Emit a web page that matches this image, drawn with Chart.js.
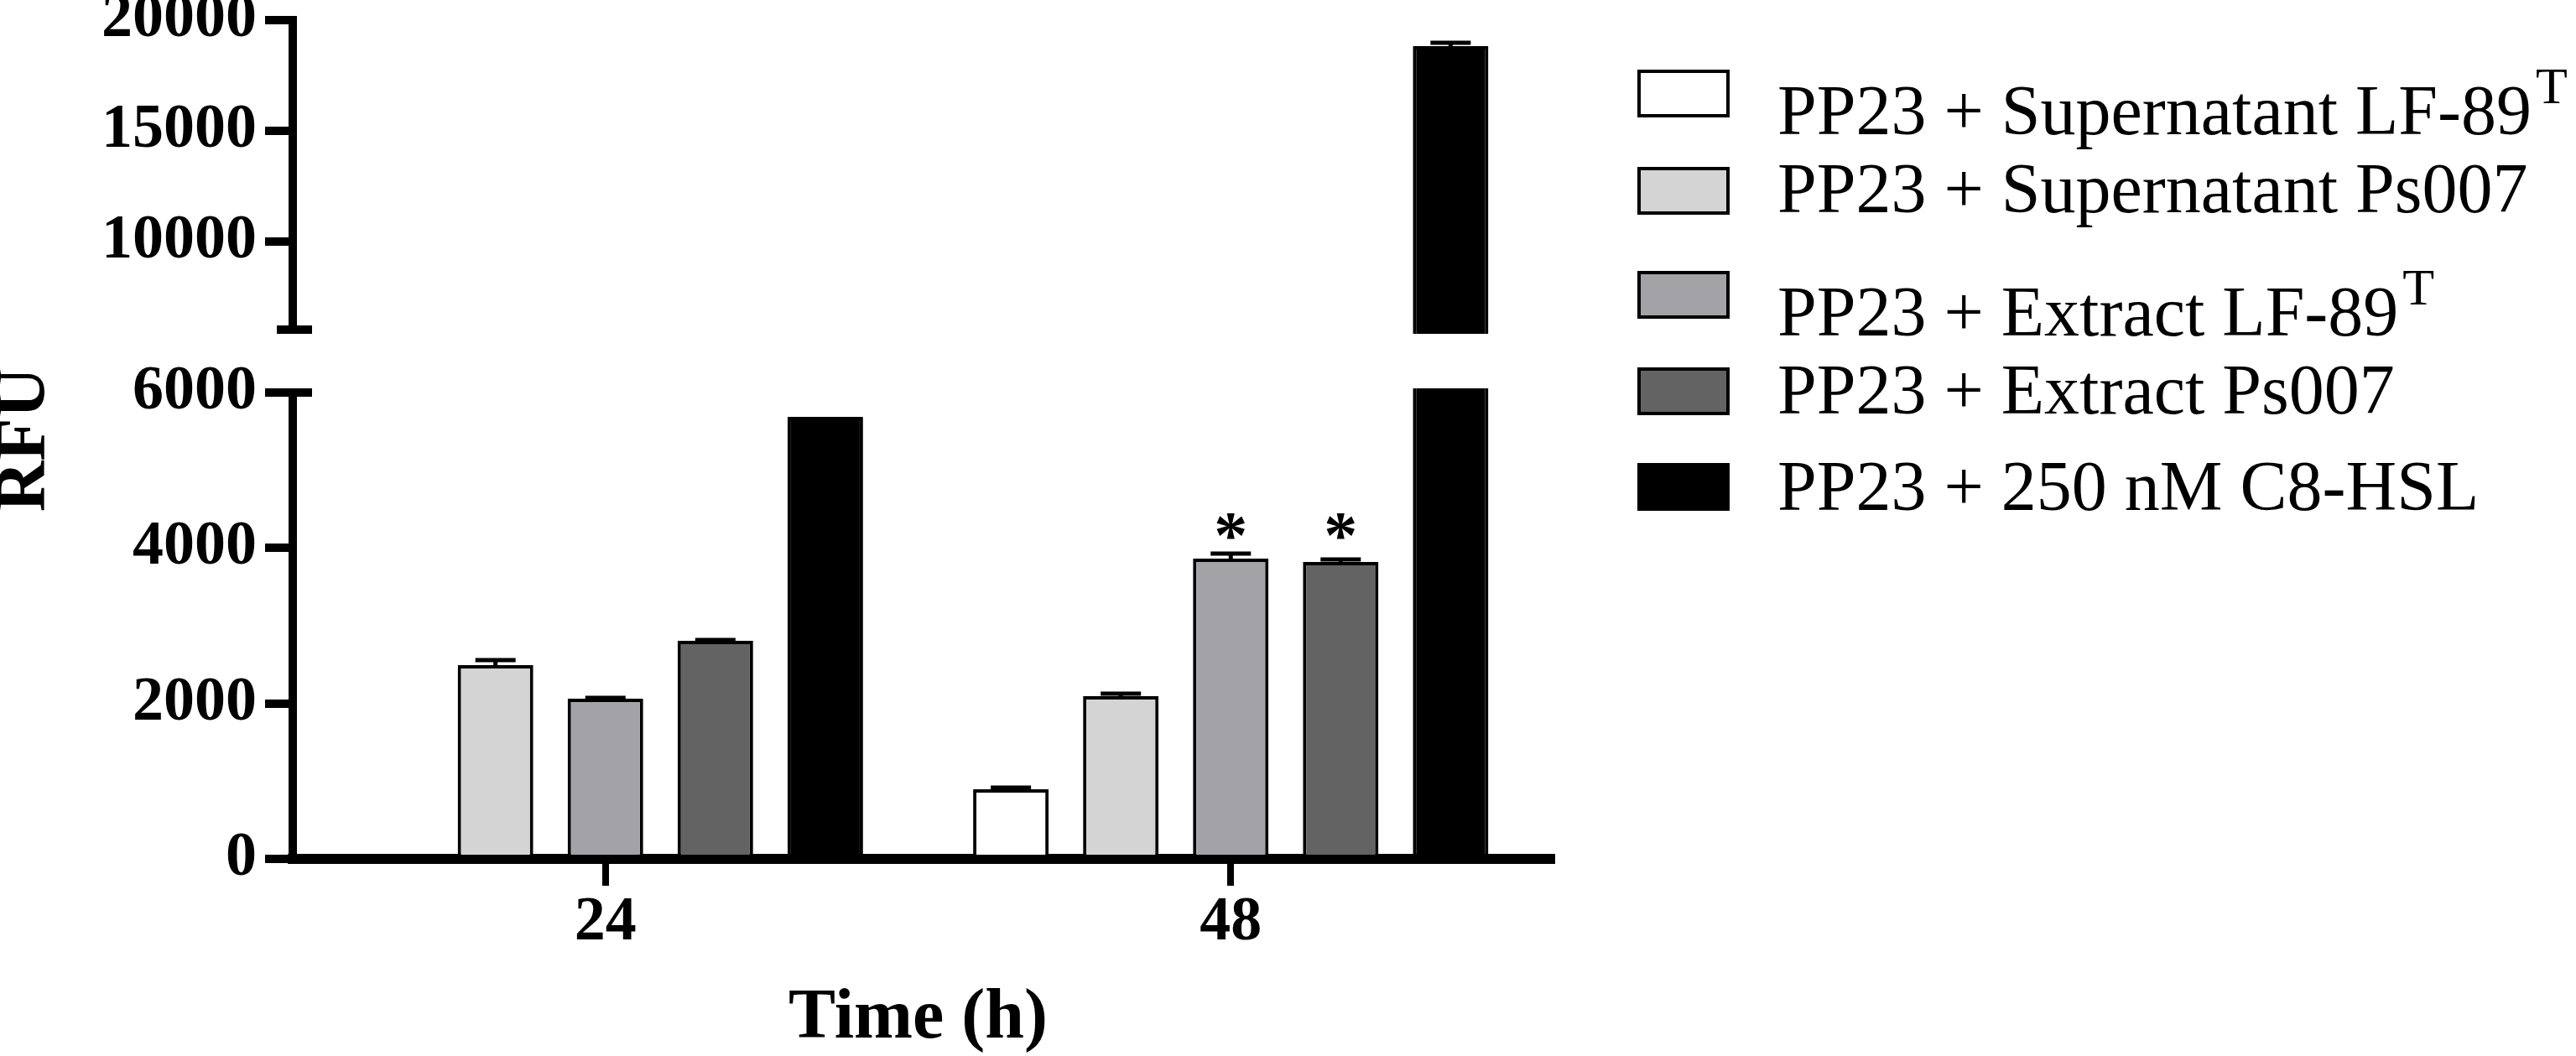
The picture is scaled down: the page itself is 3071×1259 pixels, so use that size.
<!DOCTYPE html>
<html>
<head>
<meta charset="utf-8">
<title>RFU - PP23</title>
<script src="https://cdn.jsdelivr.net/npm/chart.js@4.4.1/dist/chart.umd.min.js"></script>
<style>
    body { margin: 0; background: #fff; }
    #wrap { position: relative; width: 3071px; height: 1259px; font-family: "Liberation Serif", "Times New Roman", serif; }
    #chart { position: absolute; left: 0; top: 0; }
    .key { position: absolute; left: 1952px; width: 110px; height: 57px; box-sizing: border-box; border: 4px solid #000; }
    .txt { position: absolute; left: 2119px; font-size: 84px; line-height: 84px; white-space: nowrap; color: #000; }
    .txt span { font-size: 62px; line-height: 0; position: relative; top: -37px; margin-left: 5px; }
</style>
</head>
<body>
<div id="wrap">
    <canvas id="chart" width="3071" height="1259"></canvas>
    <div id="legend"></div>
</div>
<script>
// categories and series
const timeLabels = ["24", "48"];
const seriesNames = ["PP23 + Supernatant LF-89", "PP23 + Supernatant Ps007", "PP23 + Extract LF-89", "PP23 + Extract Ps007", "PP23 + 250 nM C8-HSL"];
const seriesSup = ["T", "", "T", "", ""];
const seriesColors = ["#ffffff", "#d4d4d4", "#a3a2a7", "#636363", "#000000"];

// mean RFU
const supernatantLF89 = [null, 896];
const supernatantPs007 = [2493, 2094];
const extractLF89 = [2061, 3863];
const extractPs007 = [2806, 3820];
const c8hsl = [5687, 18826];

// error (upper side only)
const supernatantLF89Err = [null, 21];
const supernatantPs007Err = [65, 32];
const extractLF89Err = [11, 65];
const extractPs007Err = [10, 33];
const c8hslErr = [0, 150];

// significance marks
const supernatantLF89Sig = ["", ""];
const supernatantPs007Sig = ["", ""];
const extractLF89Sig = ["", "*"];
const extractPs007Sig = ["", "*"];
const c8hslSig = ["", ""];

const yTicks = [0, 2000, 4000, 6000, 10000, 15000, 20000];
const yBreak = 6000;

const seriesValues = [supernatantLF89, supernatantPs007, extractLF89, extractPs007, c8hsl];
const seriesErrors = [supernatantLF89Err, supernatantPs007Err, extractLF89Err, extractPs007Err, c8hslErr];
const seriesSig = [supernatantLF89Sig, supernatantPs007Sig, extractLF89Sig, extractPs007Sig, c8hslSig];

// layout of the broken axis: share of the axis height for the lower part and the gap
const lowerFrac = 0.556;
const gapFrac = 0.075;

const legendBoxTop = [83, 199, 323, 438, 552];
const legendBaseline = [160, 253, 400, 493, 608];

const serif = "'Liberation Serif', 'Times New Roman', serif";

class BrokenScale extends Chart.LinearScale {
    breakPixels() {
        const h = this.bottom - this.top;
        const low = this.bottom - h * lowerFrac;
        return { low: low, high: low - h * gapFrac };
    }
    getPixelForValue(value) {
        const p = this.breakPixels();
        if (value <= yBreak) {
            return this.bottom - (value - this.min) / (yBreak - this.min) * (this.bottom - p.low);
        }
        return p.high - (value - yBreak) / (this.max - yBreak) * (p.high - this.top);
    }
    getValueForPixel(pixel) {
        const p = this.breakPixels();
        if (pixel >= p.low) return this.min + (this.bottom - pixel) / (this.bottom - p.low) * (yBreak - this.min);
        if (pixel > p.high) return yBreak;
        return yBreak + (p.high - pixel) / (p.high - this.top) * (this.max - yBreak);
    }
}
BrokenScale.id = "broken";
BrokenScale.defaults = Chart.LinearScale.defaults;
Chart.register(BrokenScale);

// legend
const legend = document.getElementById("legend");
seriesNames.forEach(function (name, i) {
    const box = document.createElement("div");
    box.className = "key";
    box.style.top = legendBoxTop[i] + "px";
    box.style.background = seriesColors[i];
    legend.appendChild(box);

    const txt = document.createElement("div");
    txt.className = "txt";
    txt.style.top = (legendBaseline[i] - 70) + "px";
    txt.textContent = name;
    if (seriesSup[i]) {
        const sup = document.createElement("span");
        sup.textContent = seriesSup[i];
        txt.appendChild(sup);
    }
    legend.appendChild(txt);
});

const extrasPlugin = {
    id: "extras",
    afterDatasetsDraw: function (chart) {
        const ctx = chart.ctx, y = chart.scales.y, area = chart.chartArea;
        ctx.save();
        ctx.strokeStyle = "#000";
        ctx.fillStyle = "#000";
        ctx.lineWidth = 5;

        // error bars
        seriesValues.forEach(function (vals, i) {
            const bars = chart.getDatasetMeta(i).data;
            vals.forEach(function (v, j) {
                const e = seriesErrors[i][j];
                if (v === null || !e) return;
                const x = bars[j].x, top = y.getPixelForValue(v + e);
                ctx.beginPath();
                ctx.moveTo(x, bars[j].y);
                ctx.lineTo(x, top);
                ctx.moveTo(x - 24, top);
                ctx.lineTo(x + 24, top);
                ctx.stroke();
            });
        });

        // significance stars, one height per category
        timeLabels.forEach(function (lab, j) {
            let topMost = Infinity;
            seriesSig.forEach(function (sig, i) {
                if (sig[j]) topMost = Math.min(topMost, y.getPixelForValue(seriesValues[i][j] + (seriesErrors[i][j] || 0)));
            });
            if (topMost === Infinity) return;
            ctx.font = "bold 80px " + serif;
            ctx.textAlign = "center";
            ctx.textBaseline = "alphabetic";
            seriesSig.forEach(function (sig, i) {
                if (sig[j]) ctx.fillText(sig[j], chart.getDatasetMeta(i).data[j].x, topMost - 33 + 38);
            });
        });

        // x axis runs a little past the last category
        ctx.lineWidth = 12;
        ctx.beginPath();
        ctx.moveTo(area.right, area.bottom);
        ctx.lineTo(area.right + 14, area.bottom);
        ctx.stroke();

        // axis break
        const b = y.breakPixels();
        ctx.fillStyle = "#fff";
        ctx.fillRect(y.right - 42, b.high + 5, area.right - y.right + 60, b.low - b.high - 10);
        ctx.lineWidth = 10;
        ctx.beginPath();
        ctx.moveTo(y.right - 19, b.high);
        ctx.lineTo(y.right + 23, b.high);
        ctx.moveTo(y.right, b.low);
        ctx.lineTo(y.right + 23, b.low);
        ctx.stroke();
        ctx.restore();
    }
};

new Chart(document.getElementById("chart"), {
    type: "bar",
    data: {
        labels: timeLabels,
        datasets: seriesValues.map(function (vals, i) {
            return {
                label: seriesNames[i] + seriesSup[i],
                data: vals,
                backgroundColor: seriesColors[i],
                borderColor: "#000",
                borderWidth: 4,
                categoryPercentage: 0.879,
                barPercentage: 0.687
            };
        })
    },
    options: {
        responsive: false,
        animation: false,
        layout: { padding: { top: 24, right: 1231, bottom: 0, left: 0 } },
        plugins: {
            legend: { display: false },
            tooltip: { enabled: false }
        },
        scales: {
            x: {
                grid: { drawOnChartArea: false, offset: false, tickLength: 32, tickWidth: 8, lineWidth: 8, tickColor: "#000" },
                border: { color: "#000", width: 12 },
                ticks: { color: "#000", padding: 0, maxRotation: 0, font: { family: serif, size: 74, weight: "bold", lineHeight: 1.2 } },
                title: { display: true, text: "Time (h)", color: "#000", padding: { top: 0, bottom: 2 }, font: { family: serif, size: 84, weight: "bold", lineHeight: 1 } },
                afterFit: function (s) { s.height = 235; s.paddingLeft = 0; s.paddingRight = 0; }
            },
            y: {
                type: "broken",
                min: 0,
                max: 20000,
                afterBuildTicks: function (s) { s.ticks = yTicks.map(function (v) { return { value: v }; }); },
                grid: { drawOnChartArea: false, tickLength: 33, tickWidth: 10, lineWidth: 10, tickColor: "#000" },
                border: { color: "#000", width: 10 },
                ticks: {
                    color: "#000", padding: 10, autoSkip: false,
                    font: { family: serif, size: 74, weight: "bold", lineHeight: 1.2 },
                    callback: function (v) { return String(v); }
                },
                title: { display: true, text: "RFU", color: "#000", padding: 0, font: { family: serif, size: 84, weight: "bold", lineHeight: 0.74 } },
                afterFit: function (s) { s.width = 349; s.paddingTop = 0; s.paddingBottom = 0; }
            }
        }
    },
    plugins: [extrasPlugin]
});
</script>
</body>
</html>
